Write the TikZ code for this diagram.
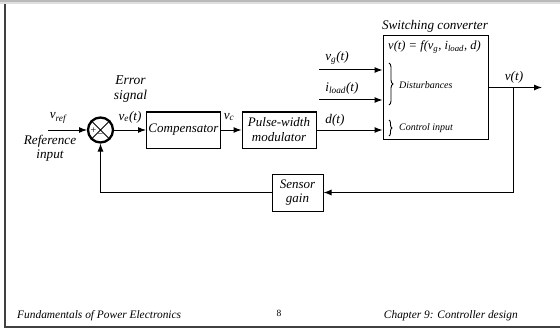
\documentclass[tikz,border=0pt]{standalone}
\usepackage{fontspec}
\setmainfont{Liberation Serif}
\usetikzlibrary{positioning,arrows.meta,decorations.pathreplacing}

\begin{document}
\begin{tikzpicture}[x=1pt, y=-1pt,
    blk/.style={draw, line width=1pt, inner sep=0pt, align=center, font=\fontsize{13}{15}\selectfont\itshape},
    sig/.style={line width=1pt, -{Latex[length=8pt, width=6pt]}},
    lbl/.style={inner sep=0pt, align=center, font=\fontsize{13.2}{14}\selectfont\itshape},
    small/.style={inner sep=0pt, anchor=west, font=\fontsize{10}{11}\selectfont\itshape},
    foot/.style={inner sep=0pt, font=\fontsize{11.4}{12}\selectfont\itshape}]

    \useasboundingbox (0,0) rectangle (560,329);
    \fill[gray!55] (0,0) rectangle (560,2);
    \fill[gray!25] (0,2) rectangle (560,4);
    \draw[line width=1.5pt, black!75] (5,4) -- (5,327) -- (560,327);

    \node[draw, circle, line width=2.3pt, minimum size=25pt, inner sep=0pt, outer sep=1pt] (sum) at (100.5,130) {};
    \draw[line width=1pt] (sum.45) -- (sum.225) (sum.135) -- (sum.315);
    \node[inner sep=0pt, font=\fontsize{10}{10}\selectfont] (plus) at (93.5,130.5) {+};
    \node[inner sep=0pt, font=\fontsize{10}{10}\selectfont] (minus) at (100.5,136) {−};

    \node[blk, minimum width=74pt, minimum height=36pt] (comp) at (183.5,130) {Compensator};
    \node[blk, minimum width=74pt, minimum height=36pt] (pwm) at (279,130) {Pulse-width\\modulator};
    \node[draw, line width=1pt, minimum width=105pt, minimum height=103pt] (conv) at (435.5,87.5) {};
    \node[blk, minimum width=51pt, minimum height=37pt, font=\fontsize{13}{14}\selectfont\itshape] (sens) at (297.5,192.5) {Sensor\\gain};

    \coordinate (refin) at (48,130);
    \coordinate (vgin) at (319,70);
    \coordinate (ilin) at (319,100);
    \coordinate (vout) at (542,87.5);
    \coordinate (tap) at (513,87.5);
    \coordinate (fb) at (513,192.5);

    \draw[sig] (refin) -- (sum);
    \draw[sig] (sum) -- (comp);
    \draw[sig] (comp) -- (pwm);
    \draw[sig] (pwm.east) -- (pwm.east -| conv.west);
    \draw[sig] (vgin) -- (vgin -| conv.west);
    \draw[sig] (ilin) -- (ilin -| conv.west);
    \draw[sig] (conv.east) -- (vout);
    \draw[sig] (tap) -- (fb) -- (sens);
    \draw[sig] (sens) -| (sum);

    \draw[decorate, decoration={brace, amplitude=4pt}, line width=0.9pt] (389,63) -- (389,105);
    \draw[decorate, decoration={brace, amplitude=3pt}, line width=0.9pt] (389,120) -- (389,136);

    \node[lbl] (vref) at (58,118) {v\textsubscript{ref}};
    \node[lbl, font=\fontsize{13.2}{13.5}\selectfont\itshape] (refname) at (50,148.5) {Reference\\input};
    \node[lbl, font=\fontsize{13.5}{15}\selectfont\itshape] (errname) at (130.5,89.5) {Error\\signal};
    \node[lbl] (ve) at (130,117) {v\textsubscript{e}(t)};
    \node[lbl] (vc) at (229,117) {v\textsubscript{c}};
    \node[lbl] (dt) at (335,120) {d(t)};
    \node[lbl] (vg) at (337,58) {v\textsubscript{g}(t)};
    \node[lbl] (iload) at (342,88.5) {i\textsubscript{load}(t)};
    \node[lbl] (vt) at (514,77) {v(t)};
    \node[lbl] (convname) at (435,26) {Switching converter};
    \node[lbl, font=\fontsize{12.5}{13}\selectfont\itshape] (eqn) at (434.5,47) {v(t) = f(v\textsubscript{g}, i\textsubscript{load}, d)};
    \node[small] (dist) at (399,85) {Disturbances};
    \node[small] (ctrl) at (399,128) {Control input};

    \node[foot, anchor=west] (foot1) at (17,316) {Fundamentals of Power Electronics};
    \node[inner sep=0pt, font=\fontsize{9.5}{10}\selectfont] (page) at (279,313) {8};
    \node[foot, anchor=east] (foot2) at (518,316) {Chapter 9: Controller design};
\end{tikzpicture}
\end{document}
